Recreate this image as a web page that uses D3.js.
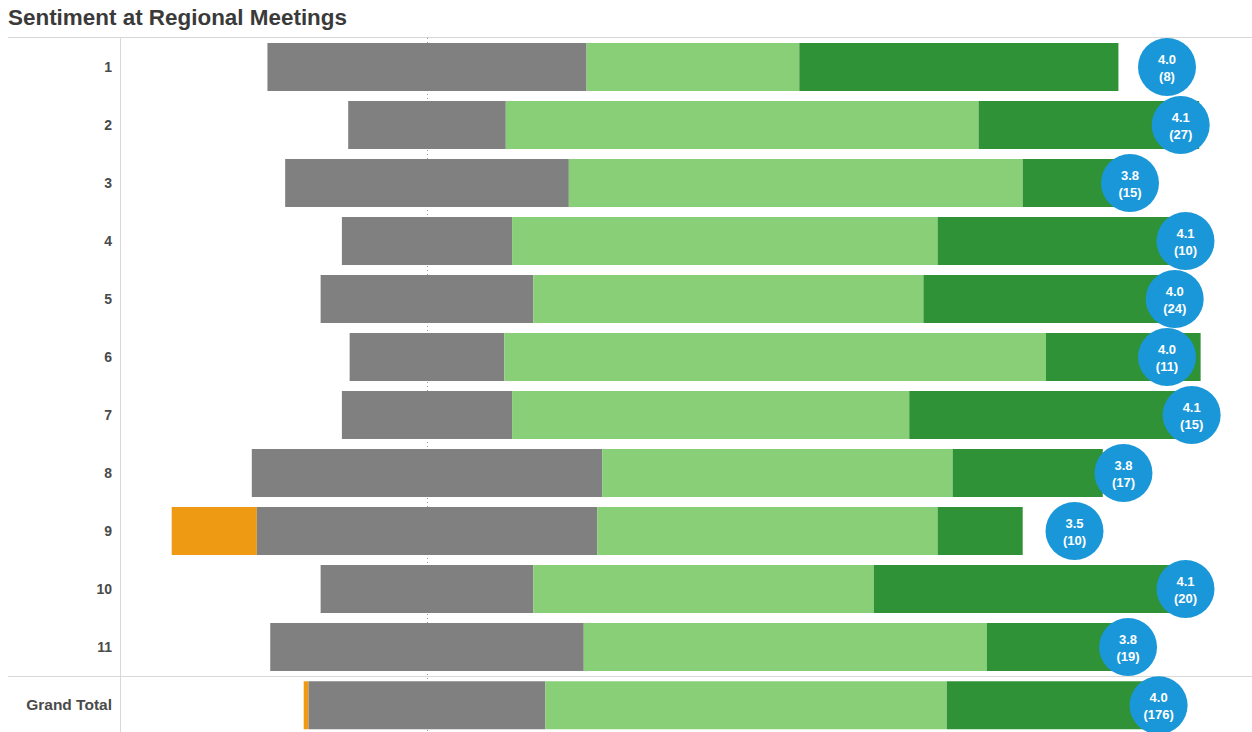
<!DOCTYPE html>
<html>
<head>
<meta charset="utf-8">
<script src="https://cdn.jsdelivr.net/npm/d3@7"></script>
<style>
  html, body { margin: 0; padding: 0; background: #fff; }
  svg { display: block; }
</style>
</head>
<body>
<svg id="chart" width="1252" height="732"></svg>
<script>
// ---- Data (response counts per sentiment) ----
const categories = ["1","2","3","4","5","6","7","8","9","10","11","Grand Total"];
const disagree      = [0, 0, 0, 0, 0, 0, 0, 0, 1, 0, 0, 1];
const neutral       = [3, 5, 5, 2, 6, 2, 3, 7, 4, 5, 7, 49];
const agree         = [2, 15, 8, 5, 11, 7, 7, 7, 4, 8, 9, 83];
const stronglyAgree = [3, 7, 2, 3, 7, 2, 5, 3, 1, 7, 3, 43];
const averageLabels = ["4.0","4.1","3.8","4.1","4.0","4.0","4.1","3.8","3.5","4.1","3.8","4.0"];
const countLabels   = ["(8)","(27)","(15)","(10)","(24)","(11)","(15)","(17)","(10)","(20)","(19)","(176)"];
const title = "Sentiment at Regional Meetings";

const colors = {
  disagree: "#ee9a12",
  neutral: "#808080",
  agree: "#88cf78",
  strong: "#2f9237",
  circle: "#1a97d8"
};

const FONT = "Arial, 'Liberation Sans', sans-serif";
const svg = d3.select("#chart");
const W = 1252, H = 732;

// Title
svg.append("text")
  .attr("x", 8).attr("y", 25)
  .attr("font-family", FONT)
  .attr("font-size", 22).attr("font-weight", "bold")
  .attr("fill", "#3a3a3a")
  .attr("textLength", 339).attr("lengthAdjust", "spacingAndGlyphs")
  .text(title);

// Layout
const rowTop = 38, rowPitch = 58;
const yBand = d3.scaleBand()
  .domain(categories.slice(0, 11))
  .range([rowTop, rowTop + rowPitch * 11])
  .paddingInner(10 / 58).paddingOuter(5 / 58);
const gtTop = 677;
const yGT = d3.scaleBand().domain(["Grand Total"]).range([gtTop, gtTop + 58])
  .paddingInner(0).paddingOuter(5 / 58);
const yPos = c => c === "Grand Total" ? yGT(c) : yBand(c);
const bh = yBand.bandwidth();

// Percentage scale: zero at 427, 100% = 851px
const x = d3.scaleLinear().domain([0, 100]).range([427, 427 + 851]);
// Average score scale shares the zero
const xAvg = d3.scaleLinear().domain([0, 5]).range([427, 427 + 925]);

// Grid / frame lines
svg.append("line").attr("x1", 8).attr("x2", W).attr("y1", 37.5).attr("y2", 37.5)
  .attr("stroke", "#d8d8d8").attr("stroke-width", 1);
svg.append("line").attr("x1", 120.5).attr("x2", 120.5).attr("y1", 37).attr("y2", H)
  .attr("stroke", "#d8d8d8").attr("stroke-width", 1);
svg.append("line").attr("x1", 8).attr("x2", W).attr("y1", 676.5).attr("y2", 676.5)
  .attr("stroke", "#d8d8d8").attr("stroke-width", 1);

// zero reference (dotted)
svg.append("line").attr("x1", x(0) + 0.5).attr("x2", x(0) + 0.5).attr("y1", 38).attr("y2", H)
  .attr("stroke", "#9a9a9a").attr("stroke-width", 1).attr("stroke-dasharray", "1,3");

// Build segments (neutral centered on zero, disagree to its left)
const rows = categories.map((c, i) => {
  const n = disagree[i] + neutral[i] + agree[i] + stronglyAgree[i];
  const pD = disagree[i] / n * 100, pN = neutral[i] / n * 100,
        pA = agree[i] / n * 100, pS = stronglyAgree[i] / n * 100;
  const segs = [];
  let cur = -pN / 2 - pD;
  [[pD, colors.disagree], [pN, colors.neutral], [pA, colors.agree], [pS, colors.strong]].forEach(([v, col]) => {
    if (v > 0) segs.push({ c, x0: cur, x1: cur + v, col });
    cur += v;
  });
  const avg = (2 * disagree[i] + 3 * neutral[i] + 4 * agree[i] + 5 * stronglyAgree[i]) / n;
  return { c, i, segs, avg };
});

const g = svg.append("g");
rows.forEach(r => {
  g.selectAll(null).data(r.segs).enter().append("rect")
    .attr("x", d => x(d.x0))
    .attr("width", d => x(d.x1) - x(d.x0))
    .attr("y", yPos(r.c))
    .attr("height", bh)
    .attr("fill", d => d.col);
});

// Row labels
svg.selectAll(".rowlab").data(categories).enter().append("text")
  .attr("x", 112)
  .attr("y", c => yPos(c) + bh / 2 + 5)
  .attr("text-anchor", "end")
  .attr("font-family", FONT)
  .attr("font-size", c => c === "Grand Total" ? 15.5 : 14)
  .attr("font-weight", "bold")
  .attr("fill", "#4a4a4a")
  .text(c => c);

// Average circles
rows.forEach(r => {
  const px = xAvg(r.avg);
  const cy = yPos(r.c) + bh / 2;
  svg.append("circle").attr("cx", px).attr("cy", cy).attr("r", 29).attr("fill", colors.circle);
  svg.append("text").attr("x", px).attr("y", cy - 3)
    .attr("text-anchor", "middle")
    .attr("font-family", FONT)
    .attr("font-size", 13).attr("font-weight", "bold").attr("fill", "#fff")
    .text(averageLabels[r.i]);
  svg.append("text").attr("x", px).attr("y", cy + 14)
    .attr("text-anchor", "middle")
    .attr("font-family", FONT)
    .attr("font-size", 13).attr("font-weight", "bold").attr("fill", "#fff")
    .text(countLabels[r.i]);
});
</script>
</body>
</html>
